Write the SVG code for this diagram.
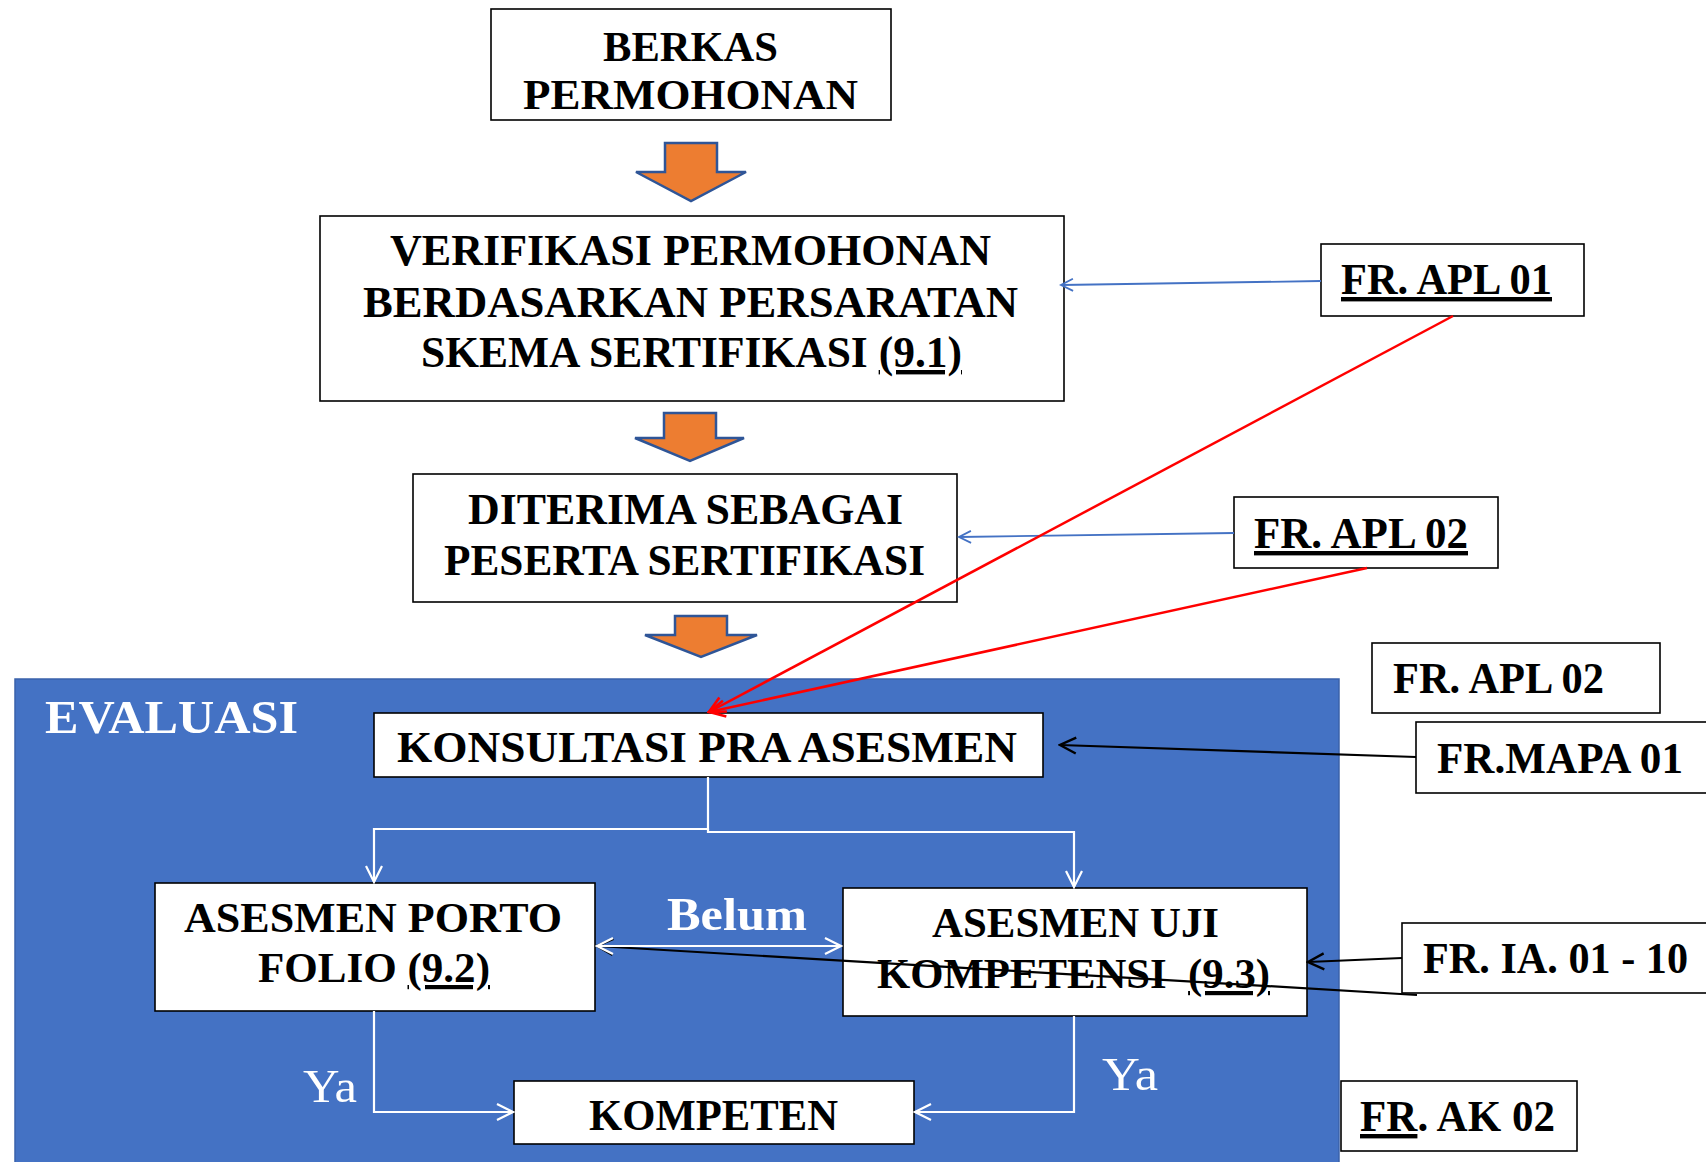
<svg xmlns="http://www.w3.org/2000/svg" width="1706" height="1162" viewBox="0 0 1706 1162">
  <defs>
    <style>
      .box { fill: #fff; stroke: #000; stroke-width: 1.6; }
      .t { font-family: "Liberation Serif", "Times New Roman", serif; font-weight: bold; font-size: 44px; fill: #000; text-anchor: middle; }
      .t2 { font-size: 42px; }
      .w { font-family: "Liberation Serif", "Times New Roman", serif; font-size: 46px; fill: #fff; text-anchor: middle; }
      .ul { text-decoration: underline; }
      .down { fill: #ED7D31; stroke: #2F5597; stroke-width: 2.5; stroke-linejoin: miter; }
      .red { stroke: #FF0000; stroke-width: 2.5; fill: none; }
      .blue { stroke: #4472C4; stroke-width: 1.8; fill: none; }
      .blk { stroke: #000; stroke-width: 2.2; fill: none; }
      .wht { stroke: #fff; stroke-width: 2.2; fill: none; }
    </style>
    <marker id="mRed" markerUnits="userSpaceOnUse" viewBox="0 0 20 20" refX="18" refY="10" markerWidth="20" markerHeight="20" orient="auto">
      <path d="M2,2 L18,10 L2,18" fill="none" stroke="#FF0000" stroke-width="2.6"/>
    </marker>
    <marker id="mBlue" markerUnits="userSpaceOnUse" viewBox="0 0 16 16" refX="14" refY="8" markerWidth="16" markerHeight="16" orient="auto">
      <path d="M2,2 L14,8 L2,14" fill="none" stroke="#4472C4" stroke-width="1.8"/>
    </marker>
    <marker id="mBlk" markerUnits="userSpaceOnUse" viewBox="0 0 20 20" refX="18" refY="10" markerWidth="20" markerHeight="20" orient="auto">
      <path d="M2,2 L18,10 L2,18" fill="none" stroke="#000" stroke-width="2.4"/>
    </marker>
    <marker id="mWht" markerUnits="userSpaceOnUse" viewBox="0 0 20 20" refX="18" refY="10" markerWidth="20" markerHeight="20" orient="auto-start-reverse">
      <path d="M2,2 L18,10 L2,18" fill="none" stroke="#fff" stroke-width="2.2"/>
    </marker>
  </defs>

  <rect width="1706" height="1162" fill="#fff"/>

  <!-- evaluation panel -->
  <g id="evaluasi-panel">
    <rect x="15" y="679" width="1324" height="490" fill="#4472C4" stroke="#3A62AA" stroke-width="1.5"/>
    <text class="w" x="45" y="733" style="text-anchor:start;font-weight:bold" textLength="253" lengthAdjust="spacingAndGlyphs">EVALUASI</text>
  </g>

  <!-- block arrows between the upper steps -->
  <g id="flow-arrows">
    <polygon class="down" points="665,143 717,143 717,172 746,172 691,201 636,172 665,172"/>
    <polygon class="down" points="664,413 716,413 716,438 744,438 690,461 635,438 664,438"/>
    <polygon class="down" points="675,616 727,616 727,635 757,635 701,657 645,635 675,635"/>
  </g>

  <g id="berkas">
    <rect class="box" x="491" y="9" width="400" height="111"/>
    <text class="t t2" x="690.5" y="61" textLength="175" lengthAdjust="spacingAndGlyphs">BERKAS</text>
    <text class="t t2" x="690.5" y="109" textLength="335" lengthAdjust="spacingAndGlyphs">PERMOHONAN</text>
  </g>

  <g id="verifikasi">
    <rect class="box" x="320" y="216" width="744" height="185"/>
    <text class="t" x="690.5" y="265" textLength="601" lengthAdjust="spacingAndGlyphs">VERIFIKASI PERMOHONAN</text>
    <text class="t" x="690.5" y="317" textLength="655" lengthAdjust="spacingAndGlyphs">BERDASARKAN PERSARATAN</text>
    <text class="t" x="691.5" y="367" textLength="541" lengthAdjust="spacingAndGlyphs">SKEMA SERTIFIKASI <tspan class="ul">(9.1)</tspan></text>
  </g>

  <g id="diterima">
    <rect class="box" x="413" y="474" width="544" height="128"/>
    <text class="t" x="685.5" y="524" textLength="435" lengthAdjust="spacingAndGlyphs">DITERIMA SEBAGAI</text>
    <text class="t" x="684.5" y="575" textLength="481" lengthAdjust="spacingAndGlyphs">PESERTA SERTIFIKASI</text>
  </g>

  <g id="konsultasi">
    <rect class="box" x="374" y="713" width="669" height="64"/>
    <text class="t" x="707" y="762" textLength="620" lengthAdjust="spacingAndGlyphs">KONSULTASI PRA ASESMEN</text>
  </g>

  <g id="porto-folio">
    <rect class="box" x="155" y="883" width="440" height="128"/>
    <text class="t t2" x="373" y="932" textLength="378" lengthAdjust="spacingAndGlyphs">ASESMEN PORTO</text>
    <text class="t t2" x="374" y="982" textLength="232" lengthAdjust="spacingAndGlyphs">FOLIO <tspan class="ul">(9.2)</tspan></text>
  </g>

  <g id="uji-kompetensi">
    <rect class="box" x="843" y="888" width="464" height="128"/>
    <text class="t t2" x="1075.5" y="937" textLength="287" lengthAdjust="spacingAndGlyphs">ASESMEN UJI</text>
    <text class="t t2" x="1073.5" y="988" textLength="393" lengthAdjust="spacingAndGlyphs">KOMPETENSI&#160; <tspan class="ul">(9.3)</tspan></text>
  </g>

  <g id="kompeten">
    <rect class="box" x="514" y="1081" width="400" height="63"/>
    <text class="t" x="713.5" y="1130" textLength="249" lengthAdjust="spacingAndGlyphs">KOMPETEN</text>
  </g>

  <g id="fr-apl-01">
    <rect class="box" x="1321" y="244" width="263" height="72"/>
    <text class="t ul" x="1446.5" y="294" textLength="211" lengthAdjust="spacingAndGlyphs">FR. APL 01</text>
  </g>

  <g id="fr-apl-02-a">
    <rect class="box" x="1234" y="497" width="264" height="71"/>
    <text class="t ul" x="1361" y="548" textLength="214" lengthAdjust="spacingAndGlyphs">FR. APL 02</text>
  </g>

  <g id="fr-apl-02-b">
    <rect class="box" x="1372" y="643" width="288" height="70"/>
    <text class="t" x="1498.5" y="693" textLength="211" lengthAdjust="spacingAndGlyphs">FR. APL 02</text>
  </g>

  <g id="fr-mapa-01">
    <rect class="box" x="1416" y="722" width="300" height="71"/>
    <text class="t" x="1560" y="773" textLength="246" lengthAdjust="spacingAndGlyphs">FR.MAPA 01</text>
  </g>

  <g id="fr-ia">
    <rect class="box" x="1402" y="923" width="314" height="70"/>
    <text class="t" x="1555.5" y="973" textLength="265" lengthAdjust="spacingAndGlyphs">FR. IA. 01 - 10</text>
  </g>

  <g id="fr-ak-02">
    <rect class="box" x="1341" y="1081" width="236" height="70"/>
    <text class="t" x="1457.5" y="1131" textLength="195" lengthAdjust="spacingAndGlyphs"><tspan class="ul">FR</tspan>. AK 02</text>
  </g>

  <!-- connectors -->
  <g id="connectors">
    <line class="blue" x1="1321" y1="281" x2="1061" y2="285" marker-end="url(#mBlue)"/>
    <line class="blue" x1="1234" y1="533" x2="959" y2="537" marker-end="url(#mBlue)"/>
    <line class="red" x1="1453" y1="316" x2="709" y2="712" marker-end="url(#mRed)"/>
    <line class="red" x1="1367" y1="568" x2="709" y2="712" marker-end="url(#mRed)"/>
    <line class="blk" x1="1416" y1="757" x2="1060" y2="745" marker-end="url(#mBlk)"/>
    <line class="blk" x1="1402" y1="958" x2="1308" y2="962" marker-end="url(#mBlk)"/>
    <line class="blk" x1="1417" y1="995" x2="597" y2="946" marker-end="url(#mBlk)"/>
    <polyline class="wht" points="708,777 708,829 374,829 374,882" marker-end="url(#mWht)"/>
    <polyline class="wht" points="708,829 708,832 1074,832 1074,887" marker-end="url(#mWht)"/>
    <line class="wht" x1="597" y1="946" x2="841" y2="946" marker-start="url(#mWht)" marker-end="url(#mWht)"/>
    <polyline class="wht" points="374,1011 374,1112 513,1112" marker-end="url(#mWht)"/>
    <polyline class="wht" points="1074,1016 1074,1112 915,1112" marker-end="url(#mWht)"/>
  </g>

  <!-- connector labels -->
  <g id="labels">
    <text class="w" x="737" y="930" style="font-weight:bold" textLength="140" lengthAdjust="spacingAndGlyphs">Belum</text>
    <text class="w" x="330" y="1102" textLength="54" lengthAdjust="spacingAndGlyphs">Ya</text>
    <text class="w" x="1130" y="1090" textLength="56" lengthAdjust="spacingAndGlyphs">Ya</text>
  </g>
</svg>
